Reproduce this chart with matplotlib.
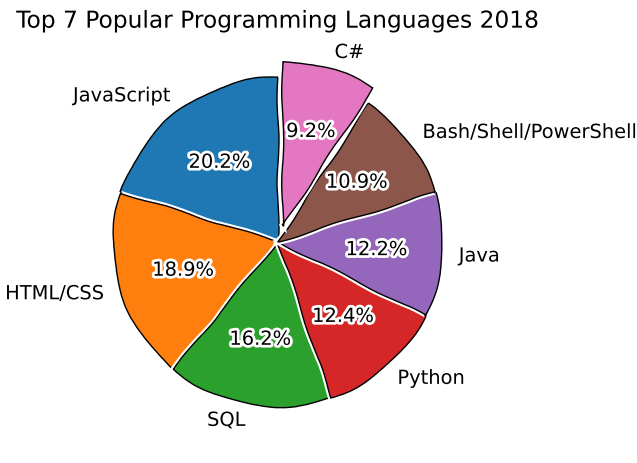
import matplotlib
matplotlib.use("Agg")
import matplotlib.pyplot as plt

labels = ['JavaScript', 'HTML/CSS', 'SQL', 'Python', 'Java', 'Bash/Shell/PowerShell', 'C#']
slices = [59219, 55466, 47544, 36443, 35917, 31991, 27097]
explode = [0, 0, 0, 0, 0, 0, 0.1]
title = "Top 7 Popular Programming Languages 2018"

W, H = 637, 463
with plt.xkcd():
    plt.rcParams['font.family'] = ['DejaVu Sans']
    fig = plt.figure(figsize=(W / 100, H / 100), dpi=100)
    ax = fig.add_axes([72 / W, 15 / H, 412 / W, 412 / H])
    ax.pie(slices, labels=labels, explode=explode, startangle=90,
           autopct='%1.1f%%', wedgeprops={'edgecolor': 'black'})
    ax.set_title(title)
    fig.savefig("out.png", dpi=100)
